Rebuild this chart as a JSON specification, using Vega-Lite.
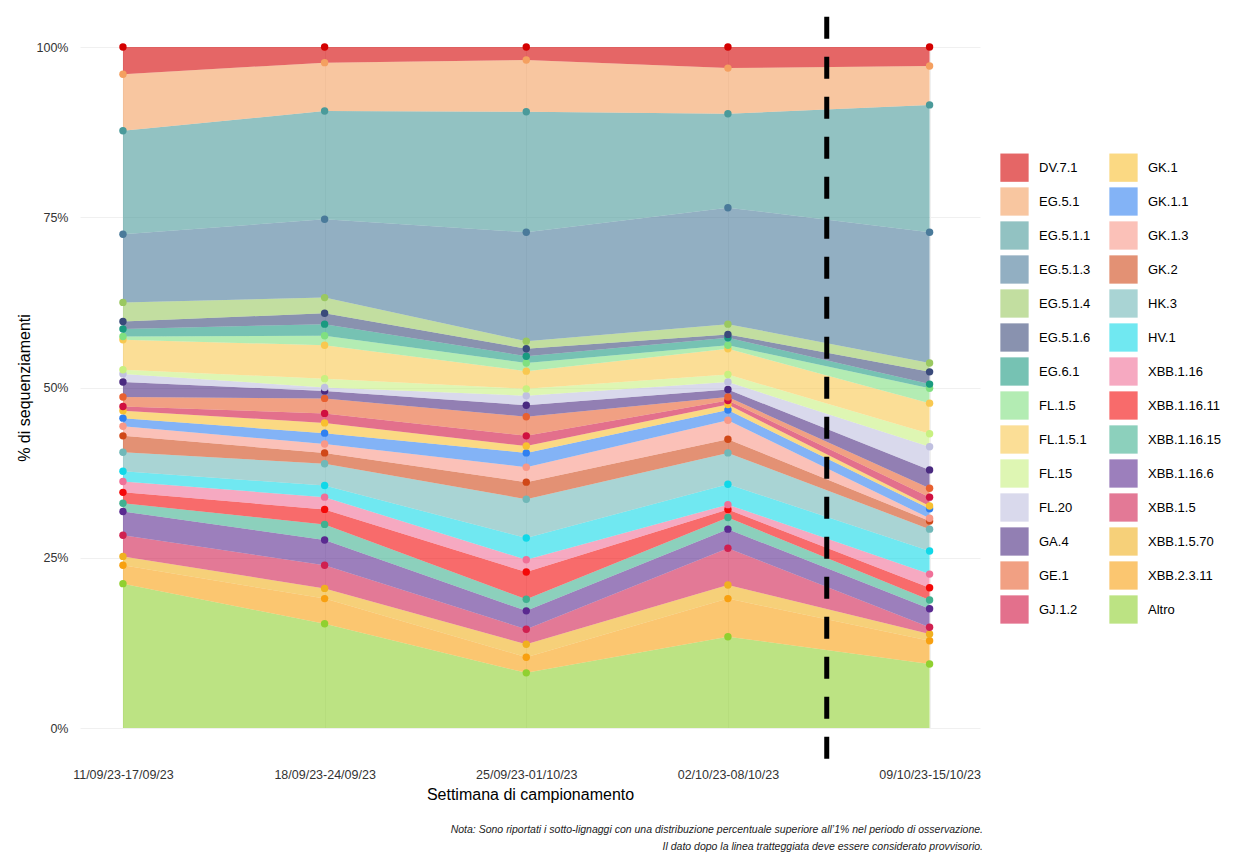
{
"$schema":"https://vega.github.io/schema/vega-lite/v6.json",
"width":900,"height":681,
"padding":{"left":16,"top":3,"right":5,"bottom":5},
"background":"white",
"config":{"view":{"stroke":null},"font":"Liberation Sans"},
"title":{"text":["Nota: Sono riportati i sotto-lignaggi con una distribuzione percentuale superiore all’1% nel periodo di osservazione.","Il dato dopo la linea tratteggiata deve essere considerato provvisorio."],"orient":"bottom","anchor":"end","fontSize":10.5,"fontStyle":"italic","fontWeight":"normal","color":"#222","offset":22,"dx":-238,"lineHeight":17},
"datasets":{
"d":[
{"i":1,"v":"Altro","o":0,"p":21.2},{"i":1,"v":"XBB.2.3.11","o":1,"p":2.7},{"i":1,"v":"XBB.1.5.70","o":2,"p":1.3},{"i":1,"v":"XBB.1.5","o":3,"p":3.1},{"i":1,"v":"XBB.1.16.6","o":4,"p":3.5},{"i":1,"v":"XBB.1.16.15","o":5,"p":1.2},{"i":1,"v":"XBB.1.16.11","o":6,"p":1.6},{"i":1,"v":"XBB.1.16","o":7,"p":1.6},{"i":1,"v":"HV.1","o":8,"p":1.5},{"i":1,"v":"HK.3","o":9,"p":2.8},{"i":1,"v":"GK.2","o":10,"p":2.4},{"i":1,"v":"GK.1.3","o":11,"p":1.4},{"i":1,"v":"GK.1.1","o":12,"p":1.2},{"i":1,"v":"GK.1","o":13,"p":1.1},{"i":1,"v":"GJ.1.2","o":14,"p":0.6},{"i":1,"v":"GE.1","o":15,"p":1.4},{"i":1,"v":"GA.4","o":16,"p":2.2},{"i":1,"v":"FL.20","o":17,"p":1.2},{"i":1,"v":"FL.15","o":18,"p":0.6},{"i":1,"v":"FL.1.5.1","o":19,"p":4.4},{"i":1,"v":"FL.1.5","o":20,"p":0.5},{"i":1,"v":"EG.6.1","o":21,"p":1.1},{"i":1,"v":"EG.5.1.6","o":22,"p":1.1},{"i":1,"v":"EG.5.1.4","o":23,"p":2.8},{"i":1,"v":"EG.5.1.3","o":24,"p":10.0},{"i":1,"v":"EG.5.1.1","o":25,"p":15.2},{"i":1,"v":"EG.5.1","o":26,"p":8.3},{"i":1,"v":"DV.7.1","o":27,"p":4.0},
{"i":2,"v":"Altro","o":0,"p":15.3},{"i":2,"v":"XBB.2.3.11","o":1,"p":3.7},{"i":2,"v":"XBB.1.5.70","o":2,"p":1.5},{"i":2,"v":"XBB.1.5","o":3,"p":3.4},{"i":2,"v":"XBB.1.16.6","o":4,"p":3.7},{"i":2,"v":"XBB.1.16.15","o":5,"p":2.3},{"i":2,"v":"XBB.1.16.11","o":6,"p":2.2},{"i":2,"v":"XBB.1.16","o":7,"p":1.8},{"i":2,"v":"HV.1","o":8,"p":1.7},{"i":2,"v":"HK.3","o":9,"p":3.2},{"i":2,"v":"GK.2","o":10,"p":1.6},{"i":2,"v":"GK.1.3","o":11,"p":1.3},{"i":2,"v":"GK.1.1","o":12,"p":1.6},{"i":2,"v":"GK.1","o":13,"p":1.5},{"i":2,"v":"GJ.1.2","o":14,"p":1.4},{"i":2,"v":"GE.1","o":15,"p":2.2},{"i":2,"v":"GA.4","o":16,"p":1.1},{"i":2,"v":"FL.20","o":17,"p":0.5},{"i":2,"v":"FL.15","o":18,"p":1.3},{"i":2,"v":"FL.1.5.1","o":19,"p":4.9},{"i":2,"v":"FL.1.5","o":20,"p":1.4},{"i":2,"v":"EG.6.1","o":21,"p":1.7},{"i":2,"v":"EG.5.1.6","o":22,"p":1.6},{"i":2,"v":"EG.5.1.4","o":23,"p":2.3},{"i":2,"v":"EG.5.1.3","o":24,"p":11.5},{"i":2,"v":"EG.5.1.1","o":25,"p":15.9},{"i":2,"v":"EG.5.1","o":26,"p":7.1},{"i":2,"v":"DV.7.1","o":27,"p":2.3},
{"i":3,"v":"Altro","o":0,"p":8.1},{"i":3,"v":"XBB.2.3.11","o":1,"p":2.3},{"i":3,"v":"XBB.1.5.70","o":2,"p":1.9},{"i":3,"v":"XBB.1.5","o":3,"p":2.2},{"i":3,"v":"XBB.1.16.6","o":4,"p":2.7},{"i":3,"v":"XBB.1.16.15","o":5,"p":1.7},{"i":3,"v":"XBB.1.16.11","o":6,"p":4.0},{"i":3,"v":"XBB.1.16","o":7,"p":1.8},{"i":3,"v":"HV.1","o":8,"p":3.2},{"i":3,"v":"HK.3","o":9,"p":5.7},{"i":3,"v":"GK.2","o":10,"p":2.5},{"i":3,"v":"GK.1.3","o":11,"p":2.2},{"i":3,"v":"GK.1.1","o":12,"p":2.1},{"i":3,"v":"GK.1","o":13,"p":1.0},{"i":3,"v":"GJ.1.2","o":14,"p":1.5},{"i":3,"v":"GE.1","o":15,"p":2.8},{"i":3,"v":"GA.4","o":16,"p":1.7},{"i":3,"v":"FL.20","o":17,"p":1.4},{"i":3,"v":"FL.15","o":18,"p":1.0},{"i":3,"v":"FL.1.5.1","o":19,"p":2.6},{"i":3,"v":"FL.1.5","o":20,"p":1.2},{"i":3,"v":"EG.6.1","o":21,"p":1.0},{"i":3,"v":"EG.5.1.6","o":22,"p":1.1},{"i":3,"v":"EG.5.1.4","o":23,"p":1.1},{"i":3,"v":"EG.5.1.3","o":24,"p":16.0},{"i":3,"v":"EG.5.1.1","o":25,"p":17.7},{"i":3,"v":"EG.5.1","o":26,"p":7.6},{"i":3,"v":"DV.7.1","o":27,"p":1.9},
{"i":4,"v":"Altro","o":0,"p":13.4},{"i":4,"v":"XBB.2.3.11","o":1,"p":5.6},{"i":4,"v":"XBB.1.5.70","o":2,"p":2.0},{"i":4,"v":"XBB.1.5","o":3,"p":5.4},{"i":4,"v":"XBB.1.16.6","o":4,"p":2.8},{"i":4,"v":"XBB.1.16.15","o":5,"p":1.7},{"i":4,"v":"XBB.1.16.11","o":6,"p":1.2},{"i":4,"v":"XBB.1.16","o":7,"p":0.7},{"i":4,"v":"HV.1","o":8,"p":3.0},{"i":4,"v":"HK.3","o":9,"p":4.6},{"i":4,"v":"GK.2","o":10,"p":2.0},{"i":4,"v":"GK.1.3","o":11,"p":2.8},{"i":4,"v":"GK.1.1","o":12,"p":1.5},{"i":4,"v":"GK.1","o":13,"p":0.8},{"i":4,"v":"GJ.1.2","o":14,"p":0.6},{"i":4,"v":"GE.1","o":15,"p":0.5},{"i":4,"v":"GA.4","o":16,"p":1.1},{"i":4,"v":"FL.20","o":17,"p":1.1},{"i":4,"v":"FL.15","o":18,"p":1.1},{"i":4,"v":"FL.1.5.1","o":19,"p":3.8},{"i":4,"v":"FL.1.5","o":20,"p":0.5},{"i":4,"v":"EG.6.1","o":21,"p":1.1},{"i":4,"v":"EG.5.1.6","o":22,"p":0.5},{"i":4,"v":"EG.5.1.4","o":23,"p":1.5},{"i":4,"v":"EG.5.1.3","o":24,"p":17.1},{"i":4,"v":"EG.5.1.1","o":25,"p":13.8},{"i":4,"v":"EG.5.1","o":26,"p":6.7},{"i":4,"v":"DV.7.1","o":27,"p":3.1},
{"i":5,"v":"Altro","o":0,"p":9.4},{"i":5,"v":"XBB.2.3.11","o":1,"p":3.4},{"i":5,"v":"XBB.1.5.70","o":2,"p":1.0},{"i":5,"v":"XBB.1.5","o":3,"p":1.0},{"i":5,"v":"XBB.1.16.6","o":4,"p":2.7},{"i":5,"v":"XBB.1.16.15","o":5,"p":1.3},{"i":5,"v":"XBB.1.16.11","o":6,"p":1.8},{"i":5,"v":"XBB.1.16","o":7,"p":2.0},{"i":5,"v":"HV.1","o":8,"p":3.4},{"i":5,"v":"HK.3","o":9,"p":3.2},{"i":5,"v":"GK.2","o":10,"p":1.2},{"i":5,"v":"GK.1.3","o":11,"p":0.4},{"i":5,"v":"GK.1.1","o":12,"p":1.4},{"i":5,"v":"GK.1","o":13,"p":0.4},{"i":5,"v":"GJ.1.2","o":14,"p":1.3},{"i":5,"v":"GE.1","o":15,"p":1.3},{"i":5,"v":"GA.4","o":16,"p":2.7},{"i":5,"v":"FL.20","o":17,"p":3.4},{"i":5,"v":"FL.15","o":18,"p":1.9},{"i":5,"v":"FL.1.5.1","o":19,"p":4.5},{"i":5,"v":"FL.1.5","o":20,"p":2.2},{"i":5,"v":"EG.6.1","o":21,"p":0.6},{"i":5,"v":"EG.5.1.6","o":22,"p":1.8},{"i":5,"v":"EG.5.1.4","o":23,"p":1.3},{"i":5,"v":"EG.5.1.3","o":24,"p":19.2},{"i":5,"v":"EG.5.1.1","o":25,"p":18.7},{"i":5,"v":"EG.5.1","o":26,"p":5.7},{"i":5,"v":"DV.7.1","o":27,"p":2.8}
],
"cut":[{"x":4.49,"ya":-4.5,"yb":106}]
},
"layer":[
{"data":{"name":"d"},
"transform":[{"stack":"p","groupby":["i"],"sort":[{"field":"o"}],"as":["y0","y1"]}],
"layer":[
{"mark":{"type":"area","opacity":0.6,"interpolate":"linear"},
"encoding":{
"x":{"field":"i","type":"quantitative","scale":{"domain":[0.787,5.25],"nice":false,"zero":false},
"axis":{"values":[1,2,3,4,5],"labelExpr":"['','11/09/23-17/09/23','18/09/23-24/09/23','25/09/23-01/10/23','02/10/23-08/10/23','09/10/23-15/10/23'][datum.value]","title":"Settimana di campionamento","titleFontSize":16,"titleFontWeight":"normal","titleColor":"#000","labelFontSize":12.5,"labelColor":"#333","domain":false,"ticks":false,"offset":32,"labelPadding":8,"titlePadding":6,"grid":true,"gridColor":"#f0f0f0"}},
"y":{"field":"y1","type":"quantitative","scale":{"domain":[0,100],"nice":false},
"axis":{"values":[0,25,50,75,100],"labelExpr":"datum.value+'%'","title":"% di sequenziamenti","titleFontSize":16,"titleFontWeight":"normal","titleColor":"#000","labelFontSize":12.5,"labelColor":"#333","domain":false,"ticks":false,"labelPadding":12,"grid":true,"gridColor":"#f0f0f0"}},
"y2":{"field":"y0"},
"color":{"field":"v","type":"nominal",
"scale":{
"domain":["DV.7.1","EG.5.1","EG.5.1.1","EG.5.1.3","EG.5.1.4","EG.5.1.6","EG.6.1","FL.1.5","FL.1.5.1","FL.15","FL.20","GA.4","GE.1","GJ.1.2","GK.1","GK.1.1","GK.1.3","GK.2","HK.3","HV.1","XBB.1.16","XBB.1.16.11","XBB.1.16.15","XBB.1.16.6","XBB.1.5","XBB.1.5.70","XBB.2.3.11","Altro"],
"range":["#d40000","#f4a060","#4a9a9a","#4a7a9a","#9ac860","#3a4a7a","#1a9a80","#80e080","#f8c850","#c8f080","#c0c0e0","#4a2a80","#e86030","#d01040","#f8c030","#3080f0","#f89888","#d04818","#70b8b8","#10d8e8","#f07098","#f40808","#40b090","#5a2a90","#d02050","#f0b020","#f8a010","#90d030"]},
"legend":{"title":null,"columns":2,"symbolType":"square","symbolSize":800,"symbolOpacity":0.6,"symbolStrokeWidth":0,"labelFontSize":13,"labelColor":"#000","rowPadding":5,"columnPadding":18,"orient":"none","legendX":920,"legendY":106,"labelOffset":10}},
"order":{"field":"o"}
}},
{"mark":{"type":"point","filled":true,"opacity":1,"size":55},
"encoding":{
"x":{"field":"i","type":"quantitative"},
"y":{"field":"y1","type":"quantitative"},
"color":{"field":"v","type":"nominal","legend":null}
}}
]},
{"data":{"name":"cut"},"mark":{"type":"rule","strokeDash":[22,18],"strokeWidth":5,"color":"#000","clip":false},
"encoding":{"x":{"field":"x","type":"quantitative"},"y":{"field":"ya","type":"quantitative"},"y2":{"field":"yb"}}}
]
}
